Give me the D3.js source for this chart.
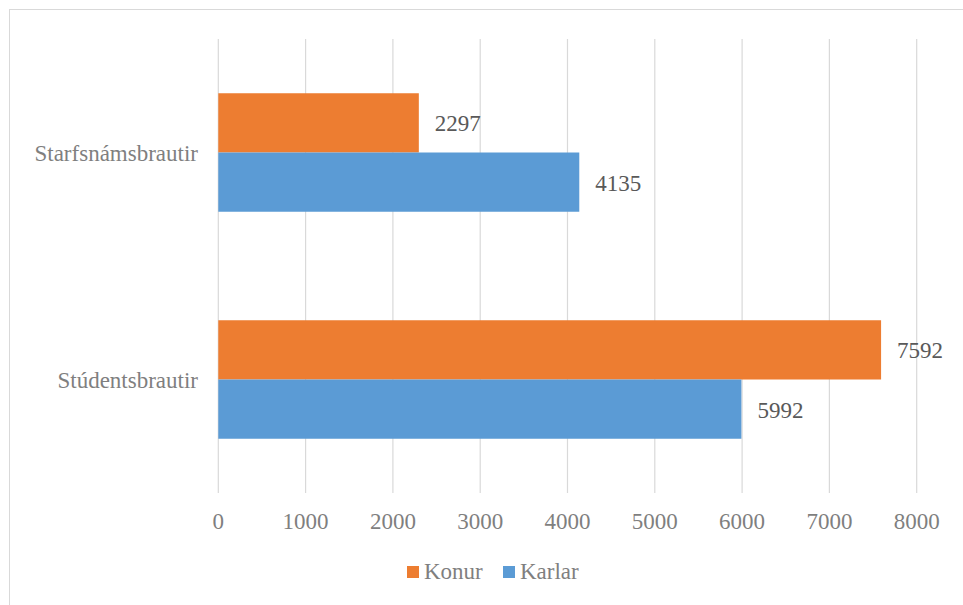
<!DOCTYPE html>
<html>
<head>
<meta charset="utf-8">
<script src="https://cdn.jsdelivr.net/npm/d3@7"></script>
<style>
  body { margin: 0; background: #fff; }
</style>
</head>
<body>
<svg id="chart" width="963" height="605" font-family="'Liberation Serif', Tinos, 'Times New Roman', 'DejaVu Serif', serif"></svg>
<script>
// categories top to bottom
var categories = ["Starfsnámsbrautir", "Stúdentsbrautir"];
var seriesNames = ["Konur", "Karlar"];
var konur = [2297, 7592];
var karlar = [4135, 5992];
var xTicks = [0, 1000, 2000, 3000, 4000, 5000, 6000, 7000, 8000];
var colors = ["#ED7D31", "#5B9BD5"];

var svg = d3.select("#chart");

// outer chart border
svg.append("rect")
  .attr("x", 9.5)
  .attr("y", 9.5)
  .attr("width", 1000)
  .attr("height", 1000)
  .attr("fill", "none")
  .attr("stroke", "#d9d9d9")
  .attr("stroke-width", 1);

var x = d3.scaleLinear().domain([0, 8000]).range([218.3, 916.7]);

var y = d3.scaleBand()
  .domain(categories)
  .range([39, 493])
  .paddingInner(0.478)
  .paddingOuter(0.239);

var ySub = d3.scaleBand()
  .domain(seriesNames)
  .range([0, y.bandwidth()]);

// gridlines
svg.append("g")
  .selectAll("line")
  .data(xTicks)
  .enter()
  .append("line")
  .attr("x1", function (d) { return x(d); })
  .attr("x2", function (d) { return x(d); })
  .attr("y1", 39)
  .attr("y2", 493)
  .attr("stroke", "#d9d9d9")
  .attr("stroke-width", 1.2);

// x tick labels
svg.append("g")
  .selectAll("text")
  .data(xTicks)
  .enter()
  .append("text")
  .attr("x", function (d) { return x(d); })
  .attr("y", 529)
  .attr("text-anchor", "middle")
  .attr("fill", "#7f7f7f")
  .style("font-size", "23px")
  .text(function (d) { return d; });

// category labels
svg.append("g")
  .selectAll("text")
  .data(categories)
  .enter()
  .append("text")
  .attr("x", 198)
  .attr("y", function (d) { return y(d) + y.bandwidth() / 2 + 8; })
  .attr("text-anchor", "end")
  .attr("fill", "#7f7f7f")
  .style("font-size", "23px")
  .text(function (d) { return d; });

// bars
var rows = [];
for (var i = 0; i < categories.length; i++) {
  rows.push({ cat: categories[i], series: "Konur", value: konur[i], color: colors[0] });
  rows.push({ cat: categories[i], series: "Karlar", value: karlar[i], color: colors[1] });
}

var bars = svg.append("g")
  .selectAll("g")
  .data(rows)
  .enter()
  .append("g");

bars.append("rect")
  .attr("x", x(0))
  .attr("y", function (d) { return y(d.cat) + ySub(d.series); })
  .attr("width", function (d) { return x(d.value) - x(0); })
  .attr("height", ySub.bandwidth())
  .attr("fill", function (d) { return d.color; });

bars.append("text")
  .attr("x", function (d) { return x(d.value) + 16; })
  .attr("y", function (d) { return y(d.cat) + ySub(d.series) + ySub.bandwidth() / 2 + 8.5; })
  .attr("fill", "#595959")
  .style("font-size", "23px")
  .text(function (d) { return d.value; });

// legend
var legendX = [407, 503];
var legend = svg.append("g")
  .selectAll("g")
  .data(seriesNames)
  .enter()
  .append("g")
  .attr("transform", function (d, i) { return "translate(" + legendX[i] + ",566)"; });

legend.append("rect")
  .attr("width", 12)
  .attr("height", 12)
  .attr("fill", function (d, i) { return colors[i]; });

legend.append("text")
  .attr("x", 17)
  .attr("y", 13)
  .attr("fill", "#7f7f7f")
  .style("font-size", "23px")
  .text(function (d) { return d; });
</script>
</body>
</html>
